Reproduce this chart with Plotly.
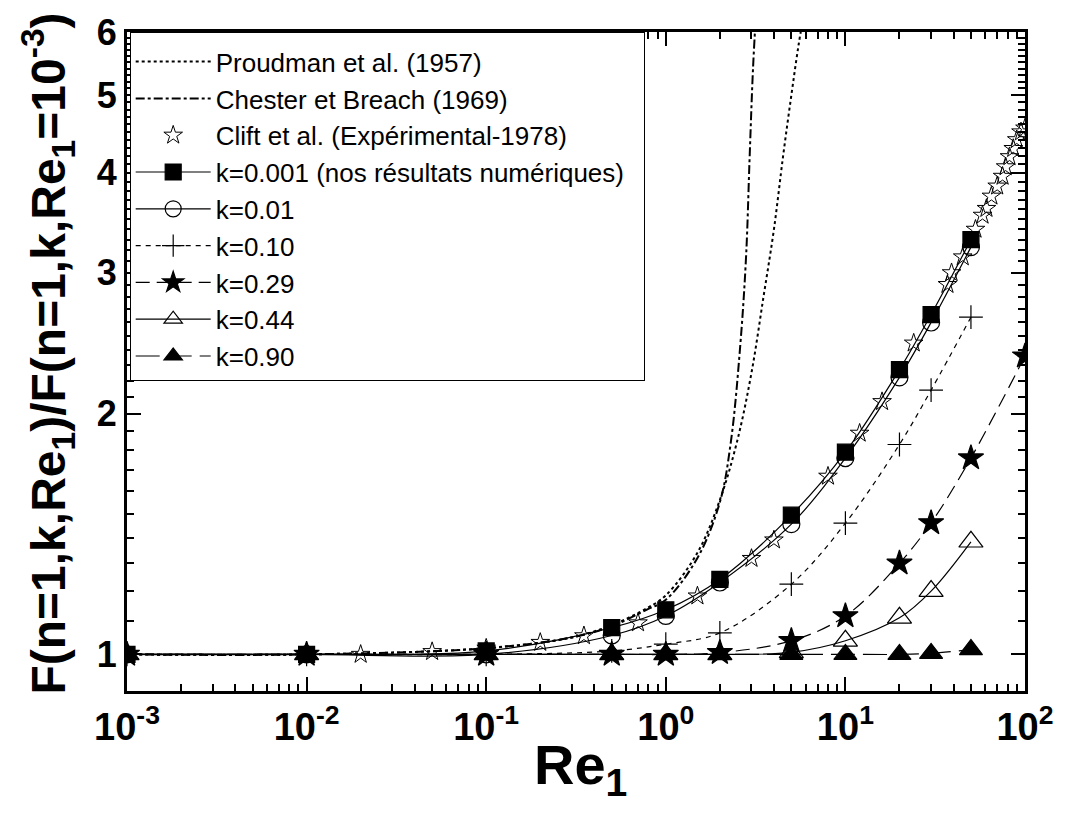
import plotly.graph_objects as go
import numpy as np

# ---------------- data ----------------
re_num = [0.001, 0.01, 0.1, 0.5, 1, 2, 5, 10, 20, 30, 50]
k0001 = [1.0, 1.0, 1.01, 1.08, 1.137, 1.241, 1.493, 1.79, 2.27, 2.66, 3.30]
k001 = [1.0, 1.0, 1.0, 1.056, 1.117, 1.23, 1.455, 1.76, 2.22, 2.60, 3.23]
k010 = [1.0, 1.0, 1.0, 1.01, 1.03, 1.064, 1.224, 1.459, 1.83, 2.14, 2.64]
re_k029 = [0.001, 0.01, 0.1, 0.5, 1, 2, 5, 10, 20, 30, 50, 100]
k029 = [1.0, 1.0, 1.0, 1.0, 1.0, 1.005, 1.04, 1.117, 1.30, 1.46, 1.76, 2.36]
k044 = [1.0, 1.0, 1.0, 1.0, 1.0, 1.0, 1.006, 1.04, 1.111, 1.20, 1.383]
k090 = [1.0, 1.0, 1.0, 1.0, 1.0, 1.0, 1.0, 1.0, 1.0, 1.003, 1.014]

re_clift = [0.02, 0.05, 0.1, 0.2, 0.35, 0.7, 1.5, 3.0, 4.0, 8.0, 12.0, 16.0, 24.0,
            37.0, 39.0, 45.0, 53.0, 58.0, 61.0, 65.0, 70.0, 75.0, 78.0, 82.0,
            86.0, 90.0, 95.0, 100.0]
clift = [1.0, 1.008, 1.018, 1.035, 1.055, 1.095, 1.183, 1.318, 1.39, 1.67, 1.89,
         2.07, 2.45, 2.90, 3.0, 3.14, 3.40, 3.54, 3.61, 3.74, 3.85, 3.96, 4.07,
         4.19, 4.29, 4.40, 4.50, 4.55]

re_proud = [0.001, 0.01, 0.1, 0.3, 0.5, 0.8, 1.0, 1.5, 2.0, 2.5, 3.0, 3.5, 4.0, 4.5, 5.0, 5.5, 6.0]
proud = [1.0, 1.0, 1.018, 1.05, 1.088, 1.145, 1.185, 1.34, 1.56, 1.85, 2.25, 2.8, 3.4, 4.2, 5.0, 5.8, 6.5]

re_chest = [0.001, 0.01, 0.1, 0.3, 0.5, 0.8, 1.0, 1.5, 2.0, 2.3, 2.6, 2.8, 2.93, 3.06, 3.2]
chest = [1.0, 1.0, 1.018, 1.05, 1.085, 1.14, 1.17, 1.32, 1.55, 1.84, 2.44, 3.15, 4.19, 5.41, 6.5]

x_ticks = [0.001, 0.01, 0.1, 1, 10, 100]
x_ticktext = ["10<sup>-3</sup>", "10<sup>-2</sup>", "10<sup>-1</sup>",
              "10<sup>0</sup>", "10<sup>1</sup>", "10<sup>2</sup>"]
y_ticks = [1, 2, 3, 4, 5, 6]
y_ticktext = ["1", "2", "3", "4", "5", "6"]

x_title = "Re<sub>1</sub>"
y_title = "F(n=1,k,Re<sub>1</sub>)/F(n=1,k,Re<sub>1</sub>=10<sup>-3</sup>)"

NBSP = "\u00a0"

# ---------------- figure ----------------
fig = go.Figure()

def add(x, y, name, dash, symbol, size, width=1.2, color_fill="black"):
    fig.add_trace(go.Scatter(
        x=x, y=y, name=name, mode="lines+markers", legendgroup=name,
        line=dict(color="black", width=width, dash=dash, shape="spline", smoothing=1.0),
        marker=dict(symbol=symbol, size=size, color=color_fill,
                    line=dict(color="black", width=1.2)),
    ))

fig.add_trace(go.Scatter(x=re_proud, y=proud, name="Proudman et al. (1957)", mode="lines",
                         legendgroup="p",
                         line=dict(color="black", width=2, dash="dot", shape="spline")))
fig.add_trace(go.Scatter(x=re_chest, y=chest, name="Chester et Breach (1969)", mode="lines",
                         legendgroup="c",
                         line=dict(color="black", width=2, dash="dashdot", shape="spline")))
fig.add_trace(go.Scatter(x=re_clift, y=clift, name="Clift et al. (Expérimental-1978)", mode="markers",
                         legendgroup="cl",
                         marker=dict(symbol="star-open", size=14, color="black",
                                     line=dict(color="black", width=1))))
add(re_num, k0001, "k=0.001 (nos résultats numériques)" + NBSP * 2, "solid", "square", 16)
add(re_num, k001, "k=0.01", "solid", "circle-open", 17)
add(re_num, k010, "k=0.10", "5px,5px", "cross-thin-open", 17)
add(re_k029, k029, "k=0.29", "14px,7px", "star", 19)
add(re_num, k044, "k=0.44", "solid", "triangle-up-open", 21)
add(re_num, k090, "k=0.90", "24px,8px", "triangle-up", 20)

axis_common = dict(
    showline=True, linecolor="black", linewidth=3, mirror="allticks",
    ticks="inside", ticklen=14, tickwidth=2, tickcolor="black",
    showgrid=False, zeroline=False,
)

minor_x = [m * 10.0 ** e for e in range(-3, 2) for m in range(2, 10)]
minor_y = [0.9] + [round(v, 1) for v in np.arange(1.1, 6.0, 0.1) if abs(v - round(v)) > 1e-6]

fig.update_xaxes(
    type="log", range=[-3, 2],
    tickvals=x_ticks, ticktext=x_ticktext,
    tickfont=dict(family="Liberation Sans, Arial", size=38, color="black", weight="bold"),
    minor=dict(tickvals=minor_x, ticks="inside", ticklen=7, tickwidth=2, tickcolor="black"),
    **axis_common,
)
fig.update_yaxes(
    type="log", range=[np.log10(0.9), np.log10(6.0)],
    tickvals=y_ticks, ticktext=y_ticktext,
    tickfont=dict(family="Liberation Sans, Arial", size=36, color="black", weight="bold"),
    minor=dict(tickvals=minor_y, ticks="inside", ticklen=7, tickwidth=2, tickcolor="black"),
    **axis_common,
)

# axis titles
fig.add_annotation(
    text=x_title, xref="paper", yref="paper", x=0.505, y=-0.0614,
    xanchor="center", yanchor="top", showarrow=False,
    font=dict(family="Liberation Sans, Arial", size=56, color="black", weight="bold"),
)
fig.add_annotation(
    text=y_title, xref="paper", yref="paper", x=-0.088, y=0.512,
    xanchor="center", yanchor="middle", showarrow=False, textangle=-90,
    font=dict(family="Liberation Sans, Arial", size=48, color="black", weight="bold"),
)

fig.update_layout(
    width=1072, height=814,
    margin=dict(l=127, r=47, t=23, b=123),
    paper_bgcolor="white", plot_bgcolor="white",
    showlegend=True,
    legend=dict(
        x=0.003, y=1.0, xanchor="left", yanchor="top",
        bgcolor="white", bordercolor="black", borderwidth=1,
        font=dict(family="Liberation Sans, Arial", size=26, color="black"),
        tracegroupgap=4, traceorder="normal",
        itemwidth=75,
        title=dict(text=" ", font=dict(size=4)),
    ),
)

fig.write_html("out.html")
